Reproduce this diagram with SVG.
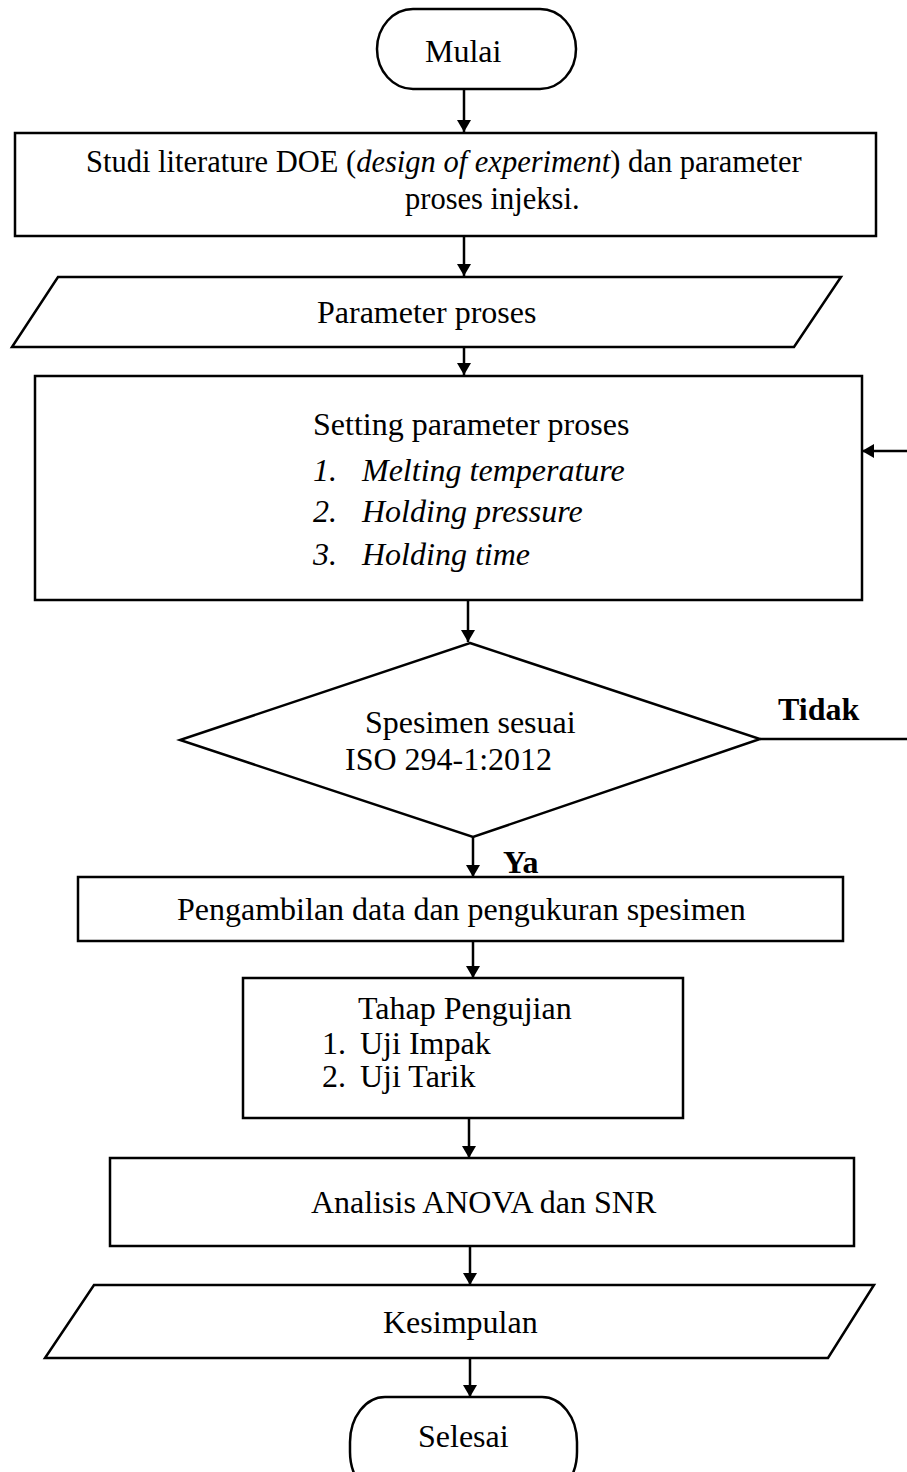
<svg xmlns="http://www.w3.org/2000/svg" width="907" height="1472" viewBox="0 0 907 1472">
<defs>
<marker id="ah" viewBox="0 0 12 14" refX="12" refY="7" markerWidth="12" markerHeight="14" markerUnits="userSpaceOnUse" orient="auto">
<path d="M0,0 L12,7 L0,14 Z" fill="#000"/>
</marker>
<style>
.s{fill:#fff;stroke:#000;stroke-width:2.5}
.c{fill:none;stroke:#000;stroke-width:2.5}
.t{font-family:"Liberation Serif","Times New Roman",serif;font-size:32px;fill:#000}
.sm{font-size:30.5px}
.i{font-style:italic}
.b{font-weight:bold}
</style>
</defs>
<rect width="907" height="1472" fill="#fff"/>
<g id="connectors">
<line class="c" x1="464" y1="89" x2="464" y2="132" marker-end="url(#ah)"/>
<line class="c" x1="464" y1="236" x2="464" y2="276" marker-end="url(#ah)"/>
<line class="c" x1="464" y1="347" x2="464" y2="375" marker-end="url(#ah)"/>
<line class="c" x1="468" y1="600" x2="468" y2="642" marker-end="url(#ah)"/>
<line class="c" x1="473" y1="837" x2="473" y2="877" marker-end="url(#ah)"/>
<line class="c" x1="473" y1="941" x2="473" y2="978" marker-end="url(#ah)"/>
<line class="c" x1="469" y1="1118" x2="469" y2="1158" marker-end="url(#ah)"/>
<line class="c" x1="470" y1="1246" x2="470" y2="1285" marker-end="url(#ah)"/>
<line class="c" x1="470" y1="1358" x2="470" y2="1397" marker-end="url(#ah)"/>
<line class="c" x1="760" y1="739" x2="907" y2="739"/>
<line class="c" x1="907" y1="451" x2="862" y2="451" marker-end="url(#ah)"/>
<text class="t b" x="778" y="720" font-size="31">Tidak</text>
<text class="t b" x="503" y="873" font-size="31">Ya</text>
</g>
<g id="mulai">
<rect class="s" x="377" y="9" width="199" height="80" rx="36" ry="40"/>
<text class="t" x="425" y="62">Mulai</text>
</g>
<g id="studi">
<rect class="s" x="15" y="133" width="861" height="103"/>
<text class="t sm" x="86" y="172">Studi literature DOE (<tspan class="i">design of experiment</tspan>) dan parameter</text>
<text class="t sm" x="405" y="209">proses injeksi.</text>
</g>
<g id="parameter">
<polygon class="s" points="58,277 841,277 794,347 12,347"/>
<text class="t" x="317" y="323">Parameter proses</text>
</g>
<g id="setting">
<rect class="s" x="35" y="376" width="827" height="224"/>
<text class="t" x="313" y="435">Setting parameter proses</text>
<text class="t i" x="313" y="481">1.</text><text class="t i" x="362" y="481">Melting temperature</text>
<text class="t i" x="313" y="522">2.</text><text class="t i" x="362" y="522">Holding pressure</text>
<text class="t i" x="313" y="565">3.</text><text class="t i" x="362" y="565">Holding time</text>
</g>
<g id="spesimen">
<polygon class="s" points="470,643 760,739 473,837 180,740"/>
<text class="t" x="365" y="733">Spesimen sesuai</text>
<text class="t" x="345" y="770">ISO 294-1:2012</text>
</g>
<g id="pengambilan">
<rect class="s" x="78" y="877" width="765" height="64"/>
<text class="t" x="177" y="920">Pengambilan data dan pengukuran spesimen</text>
</g>
<g id="tahap">
<rect class="s" x="243" y="978" width="440" height="140"/>
<text class="t" x="358" y="1019">Tahap Pengujian</text>
<text class="t" x="322" y="1054">1.</text><text class="t" x="360" y="1054">Uji Impak</text>
<text class="t" x="322" y="1087">2.</text><text class="t" x="360" y="1087">Uji Tarik</text>
</g>
<g id="analisis">
<rect class="s" x="110" y="1158" width="744" height="88"/>
<text class="t" x="311" y="1213">Analisis ANOVA dan SNR</text>
</g>
<g id="kesimpulan">
<polygon class="s" points="94,1285 874,1285 828,1358 45,1358"/>
<text class="t" x="383" y="1333">Kesimpulan</text>
</g>
<g id="selesai">
<rect class="s" x="350" y="1397" width="227" height="100" rx="35" ry="45"/>
<text class="t" x="418" y="1447">Selesai</text>
</g>
</svg>
